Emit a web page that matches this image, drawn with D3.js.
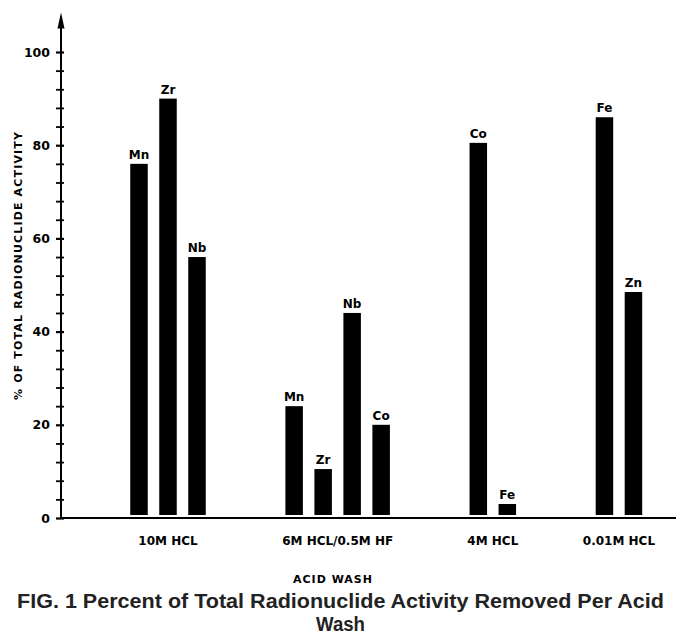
<!DOCTYPE html>
<html>
<head>
<meta charset="utf-8">
<script src="https://cdnjs.cloudflare.com/ajax/libs/d3/7.8.5/d3.min.js"></script>
<style>
  body { margin: 0; background: #fff; }
  svg { display: block; }
  text { fill: #000; }
</style>
</head>
<body>
<svg id="drawing_region"></svg>
<script>
// Acid washes (groups along x)
const washes = ["10M HCL", "6M HCL/0.5M HF", "4M HCL", "0.01M HCL"];
// Radionuclides measured per wash
const nuclides = [
    ["Mn", "Zr", "Nb"],
    ["Mn", "Zr", "Nb", "Co"],
    ["Co", "Fe"],
    ["Fe", "Zn"]
];
// % of total radionuclide activity removed
const percents = [
    [76, 90, 56],
    [24, 10.5, 44, 20],
    [80.5, 3],
    [86, 48.5]
];
const yTicks = d3.range(0, 101, 4);
const yLabelTicks = [0, 20, 40, 60, 80, 100];

class BarChart {

    constructor( config ) {
        this.config = {
            width : config.width || 681,
            height : config.height || 639,
            axis_x : config.axis_x || 61,
            axis_right : config.axis_right || 676,
            base_y : config.base_y || 518,
            top_y : config.top_y || 52,
            first_bar : config.first_bar || 139,
            bar_step : config.bar_step || 29,
            group_gap : config.group_gap || 2.35,
            bar_width : config.bar_width || 17.5
        };
        this.init();
    }

    init() {
        let self = this;
        let c = self.config;

        self.svg = d3.select('#drawing_region')
            .attr('width', c.width)
            .attr('height', c.height);

        // flatten bars, leaving a gap between washes
        self.bars = [];
        let unit = 0;
        washes.forEach((w, gi) => {
            nuclides[gi].forEach((n, bi) => {
                self.bars.push({ wash: w, nuclide: n, value: percents[gi][bi], unit: unit });
                unit += 1;
            });
            unit += c.group_gap;
        });
        let lastUnit = d3.max(self.bars, d => d.unit);

        self.xscale = d3.scaleLinear()
            .domain([0, lastUnit])
            .range([c.first_bar, c.first_bar + lastUnit * c.bar_step]);

        self.yscale = d3.scaleLinear()
            .domain([0, 100])
            .range([c.base_y, c.top_y]);

        self.render();
    }

    render() {
        let self = this;
        let c = self.config;
        let font = "'DejaVu Sans', sans-serif";

        // bars
        self.svg.append('g').selectAll('rect').data(self.bars)
            .join('rect')
            .attr('x', d => self.xscale(d.unit) - c.bar_width / 2)
            .attr('y', d => self.yscale(d.value))
            .attr('width', c.bar_width)
            .attr('height', d => self.yscale(0) - 3 - self.yscale(d.value))
            .attr('fill', '#000');

        // nuclide labels above bars
        self.svg.append('g').selectAll('text').data(self.bars)
            .join('text')
            .attr('x', d => self.xscale(d.unit))
            .attr('y', d => self.yscale(d.value) - 5)
            .attr('text-anchor', 'middle')
            .style('font-family', font)
            .style('font-weight', 'bold')
            .style('font-size', '12px')
            .text(d => d.nuclide);

        // y axis
        self.yaxis = d3.axisLeft(self.yscale)
            .tickValues(yTicks)
            .tickSizeInner(5)
            .tickSizeOuter(0)
            .tickPadding(6)
            .tickFormat(d => yLabelTicks.includes(d) ? d : '');

        self.yaxis_group = self.svg.append('g')
            .attr('transform', `translate(${c.axis_x}, 0)`)
            .call(self.yaxis);

        self.yaxis_group.select('.domain').remove();
        self.yaxis_group.selectAll('.tick line')
            .attr('x1', 3)
            .attr('stroke', '#000')
            .attr('stroke-width', d => yLabelTicks.includes(d) ? 2.2 : 1.8);
        self.yaxis_group.selectAll('.tick text')
            .style('font-family', font)
            .style('font-weight', 'bold')
            .style('font-size', '12.5px')
            .attr('fill', '#000');

        // axis lines with arrow on top
        let yTop = self.yscale(108.5);
        self.svg.append('line')
            .attr('x1', c.axis_x).attr('x2', c.axis_x)
            .attr('y1', c.base_y + 1).attr('y2', yTop + 4)
            .attr('stroke', '#000').attr('stroke-width', 2);
        self.svg.append('path')
            .attr('d', `M${c.axis_x},${yTop} L${c.axis_x - 3.5},${yTop + 16} L${c.axis_x + 3.5},${yTop + 16} Z`)
            .attr('fill', '#000');
        self.svg.append('line')
            .attr('x1', c.axis_x - 1).attr('x2', c.axis_right)
            .attr('y1', c.base_y).attr('y2', c.base_y)
            .attr('stroke', '#000').attr('stroke-width', 2);

        // wash labels under each group
        let groups = d3.groups(self.bars, d => d.wash);
        self.svg.append('g').selectAll('text').data(groups)
            .join('text')
            .attr('x', g => d3.mean(g[1], d => self.xscale(d.unit)))
            .attr('y', c.base_y + 27)
            .attr('text-anchor', 'middle')
            .style('font-family', font)
            .style('font-weight', 'bold')
            .style('font-size', '12px')
            .text(g => g[0]);

        // axis titles
        self.svg.append('text')
            .attr('transform', `translate(22, 266) rotate(-90)`)
            .attr('text-anchor', 'middle')
            .attr('textLength', 268)
            .attr('lengthAdjust', 'spacing')
            .attr('fill', '#000')
            .style('font-family', font)
            .style('font-weight', 'bold')
            .style('font-size', '11px')
            .text('% OF TOTAL RADIONUCLIDE ACTIVITY');

        self.svg.append('text')
            .attr('x', 333).attr('y', 583)
            .attr('text-anchor', 'middle')
            .style('font-family', font)
            .style('font-weight', 'bold')
            .style('font-size', '11px')
            .style('letter-spacing', '1px')
            .text('ACID WASH');

        // figure caption
        let cap = "'Liberation Sans Narrow', 'Liberation Sans', Arial, sans-serif";
        self.svg.append('text')
            .attr('x', 340.5).attr('y', 608)
            .attr('text-anchor', 'middle')
            .attr('textLength', 647)
            .attr('lengthAdjust', 'spacingAndGlyphs')
            .style('font-family', cap)
            .style('font-weight', 'bold')
            .style('font-size', '20px')
            .style('fill', '#222')
            .text('FIG. 1 Percent of Total Radionuclide Activity Removed Per Acid');
        self.svg.append('text')
            .attr('x', 340.5).attr('y', 631)
            .attr('text-anchor', 'middle')
            .attr('textLength', 49)
            .attr('lengthAdjust', 'spacingAndGlyphs')
            .style('font-family', cap)
            .style('font-weight', 'bold')
            .style('font-size', '20px')
            .style('fill', '#222')
            .text('Wash');
    }
}

let chart = new BarChart({});
</script>
</body>
</html>
